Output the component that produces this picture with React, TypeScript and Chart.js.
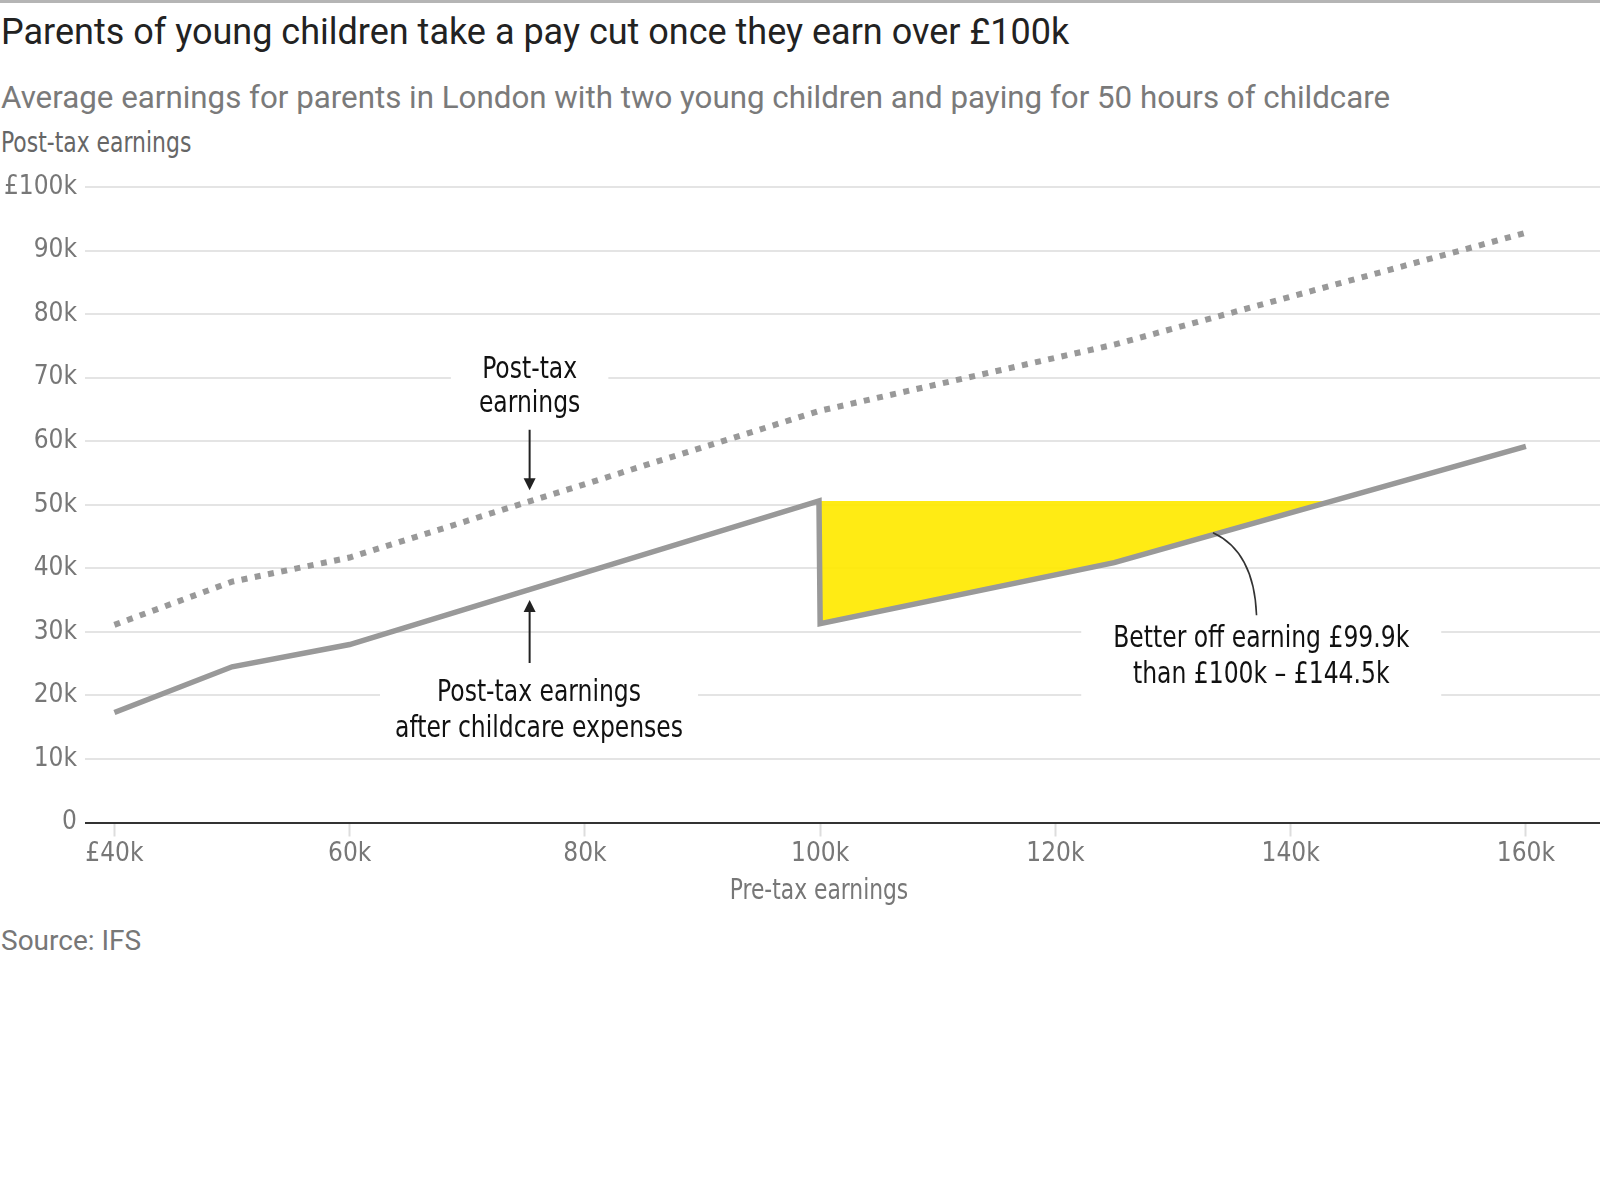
import { useEffect, useRef } from 'react';
import Chart from 'chart.js/auto';

// Pre-tax earnings (£) at the points where each line changes direction
const postTaxIncome = [40000, 50000, 60000, 100000, 125000, 160000];
const postTaxEarnings = [31100, 37900, 41700, 64800, 75200, 92800];

const afterChildcareIncome = [40000, 50000, 60000, 99900, 100000, 125000, 160000];
const afterChildcareEarnings = [17300, 24500, 28000, 50600, 31300, 40900, 59200];

// Yellow gap: incomes at which parents take home less than at £99.9k
const gapIncome = [100000, 125000, 143500];
const gapEarnings = [31300, 40900, 50600];
const gapCeiling = 50600;

const xTickValues = [40000, 60000, 80000, 100000, 120000, 140000, 160000];
const xTickLabels = ['£40k', '60k', '80k', '100k', '120k', '140k', '160k'];
const yTickValues = [0, 10000, 20000, 30000, 40000, 50000, 60000, 70000, 80000, 90000, 100000];
const yTickLabels = ['0', '10k', '20k', '30k', '40k', '50k', '60k', '70k', '80k', '90k', '£100k'];

const NARROW = "'Liberation Sans Narrow', 'DejaVu Sans Condensed', sans-serif";
const SANS = "Roboto, 'Liberation Sans', sans-serif";
const LINE_GREY = '#999999';
const NOTE_SQUEEZE = 0.87; // the condensed face is not installed, so squeeze the text

const toPoints = (xs: number[], ys: number[]) => xs.map((x, i) => ({ x, y: ys[i] }));

// Notes drawn on top of the chart, placed in data units
const notes = [
  { x: 75300, lines: ['Post-tax', 'earnings'], top: 71200, step: 5300, pad: 28, below: 20 },
  { x: 76100, lines: ['Post-tax earnings', 'after childcare expenses'], top: 20300, step: 5600, pad: 15, below: 20 },
  { x: 137500, lines: ['Better off earning £99.9k', 'than £100k – £144.5k'], top: 28800, step: 5600, pad: 32, below: 30 },
];

const annotationPlugin = {
  id: 'notes',
  afterDatasetsDraw(chart: any) {
    const { ctx, scales } = chart;
    const xs = scales.x;
    const ys = scales.y;
    ctx.save();
    ctx.font = `30px ${NARROW}`;
    ctx.textAlign = 'center';
    ctx.textBaseline = 'middle';

    notes.forEach(note => {
      const cx = xs.getPixelForValue(note.x);
      const widths = note.lines.map(l => ctx.measureText(l).width * NOTE_SQUEEZE);
      const w = Math.max(...widths) + note.pad * 2;
      const y0 = ys.getPixelForValue(note.top);
      const y1 = ys.getPixelForValue(note.top - note.step * (note.lines.length - 1));
      ctx.fillStyle = '#ffffff';
      ctx.fillRect(cx - w / 2, y0 - 20, w, y1 - y0 + 20 + note.below);
      ctx.fillStyle = '#111111';
      note.lines.forEach((line, i) => {
        ctx.save();
        ctx.translate(cx, ys.getPixelForValue(note.top - note.step * i));
        ctx.scale(NOTE_SQUEEZE, 1);
        ctx.fillText(line, 0, 0);
        ctx.restore();
      });
    });

    // arrows
    const arrow = (xv: number, fromV: number, toV: number) => {
      const x = xs.getPixelForValue(xv);
      const yA = ys.getPixelForValue(fromV);
      const yB = ys.getPixelForValue(toV);
      const dir = yB > yA ? 1 : -1;
      ctx.strokeStyle = '#222222';
      ctx.lineWidth = 2;
      ctx.beginPath();
      ctx.moveTo(x, yA);
      ctx.lineTo(x, yB - dir * 10);
      ctx.stroke();
      ctx.fillStyle = '#222222';
      ctx.beginPath();
      ctx.moveTo(x - 6, yB - dir * 12);
      ctx.lineTo(x + 6, yB - dir * 12);
      ctx.lineTo(x, yB);
      ctx.closePath();
      ctx.fill();
    };
    arrow(75300, 61800, 52300);
    arrow(75300, 25100, 35000);

    // curved connector to the after-childcare line
    ctx.strokeStyle = '#333333';
    ctx.lineWidth = 1.6;
    ctx.beginPath();
    ctx.moveTo(xs.getPixelForValue(137100), ys.getPixelForValue(32600));
    ctx.quadraticCurveTo(
      xs.getPixelForValue(136900), ys.getPixelForValue(42600),
      xs.getPixelForValue(133400), ys.getPixelForValue(45600)
    );
    ctx.stroke();
    ctx.restore();
  },
};

const ChartPanel = () => {
  const canvasRef = useRef<HTMLCanvasElement>(null);
  const chartRef = useRef<Chart | null>(null);

  useEffect(() => {
    if (!canvasRef.current) return;
    chartRef.current = new Chart(canvasRef.current, {
      type: 'line',
      data: {
        datasets: [
          {
            label: 'Post-tax earnings',
            data: toPoints(postTaxIncome, postTaxEarnings),
            borderColor: LINE_GREY,
            borderWidth: 6,
            borderDash: [6, 7.5],
            borderCapStyle: 'butt',
            pointRadius: 0,
            fill: false,
            order: 0,
          },
          {
            label: 'Post-tax earnings after childcare expenses',
            data: toPoints(afterChildcareIncome, afterChildcareEarnings),
            borderColor: LINE_GREY,
            borderWidth: 5.5,
            borderJoinStyle: 'miter',
            borderCapStyle: 'butt',
            pointRadius: 0,
            fill: false,
            order: 1,
          },
          {
            label: 'Gap',
            data: toPoints(gapIncome, gapEarnings),
            borderWidth: 0,
            borderColor: 'rgba(0,0,0,0)',
            backgroundColor: 'rgba(255, 233, 0, 0.92)',
            pointRadius: 0,
            fill: { value: gapCeiling },
            order: 2,
          },
        ],
      },
      options: {
        animation: false,
        responsive: true,
        maintainAspectRatio: false,
        layout: { padding: { top: 27, right: 0, bottom: 0, left: 0 } },
        plugins: {
          legend: { display: false },
          tooltip: { enabled: false },
        },
        scales: {
          x: {
            type: 'linear',
            min: 37500,
            max: 166300,
            afterBuildTicks: (scale: any) => {
              scale.ticks = xTickValues.map(value => ({ value }));
            },
            afterFit: (scale: any) => {
              scale.height = 57.5;
            },
            grid: {
              drawOnChartArea: false,
              drawTicks: true,
              tickLength: 14,
              tickColor: '#dddddd',
              tickWidth: 2,
            },
            border: { display: false },
            ticks: {
              padding: 2,
              color: '#777777',
              font: { family: NARROW, size: 26 },
              maxRotation: 0,
              callback: (value: any) => xTickLabels[xTickValues.indexOf(Number(value))] ?? '',
            },
          },
          y: {
            min: 0,
            max: 100000,
            afterBuildTicks: (scale: any) => {
              scale.ticks = yTickValues.map(value => ({ value }));
            },
            afterFit: (scale: any) => {
              scale.width = 85;
            },
            grid: {
              color: (c: any) => (c.tick && c.tick.value === 0 ? '#333333' : '#e4e4e4'),
              lineWidth: 2,
              drawTicks: false,
            },
            border: { display: false },
            ticks: {
              padding: 8,
              color: '#777777',
              font: { family: NARROW, size: 26 },
              callback: (value: any) => yTickLabels[yTickValues.indexOf(Number(value))] ?? '',
            },
          },
        },
      },
      plugins: [annotationPlugin],
    });

    return () => {
      if (chartRef.current) {
        chartRef.current.destroy();
        chartRef.current = null;
      }
    };
  }, []);

  return (
    <div style={{ position: 'absolute', left: 0, top: 160, width: 1600, height: 720 }}>
      <canvas ref={canvasRef}></canvas>
    </div>
  );
};

export default function App() {
  useEffect(() => {
    document.body.style.margin = '0';
    document.body.style.background = '#ffffff';
  }, []);

  return (
    <div style={{ position: 'relative', width: 1600, height: 1200, background: '#fff', overflow: 'hidden' }}>
      <div style={{ position: 'absolute', left: 0, top: 0, width: 1600, height: 3, background: '#b5b5b5' }} />
      <div
        style={{
          position: 'absolute', left: 1, top: 14, fontFamily: SANS, fontSize: 36, lineHeight: '36px',
          color: '#222', whiteSpace: 'nowrap',
        }}
      >
        Parents of young children take a pay cut once they earn over £100k
      </div>
      <div
        style={{
          position: 'absolute', left: 1, top: 82, fontFamily: SANS, fontSize: 31.3, lineHeight: '31px',
          color: '#7a7a7a', whiteSpace: 'nowrap',
        }}
      >
        Average earnings for parents in London with two young children and paying for 50 hours of childcare
      </div>
      <div
        style={{
          position: 'absolute', left: 1, top: 128, fontFamily: NARROW, fontSize: 29, lineHeight: '29px',
          color: '#666', whiteSpace: 'nowrap', transform: 'scaleX(0.84)', transformOrigin: 'left center',
        }}
      >
        Post-tax earnings
      </div>
      <ChartPanel />
      <div
        style={{
          position: 'absolute', left: 819, top: 876, transform: 'translateX(-50%) scaleX(0.866)',
          transformOrigin: 'center', fontFamily: NARROW, fontSize: 28, lineHeight: '28px', color: '#777',
          whiteSpace: 'nowrap',
        }}
      >
        Pre-tax earnings
      </div>
      <div
        style={{
          position: 'absolute', left: 1, top: 927, fontFamily: SANS, fontSize: 28, lineHeight: '28px',
          color: '#777', whiteSpace: 'nowrap',
        }}
      >
        Source: IFS
      </div>
    </div>
  );
}
